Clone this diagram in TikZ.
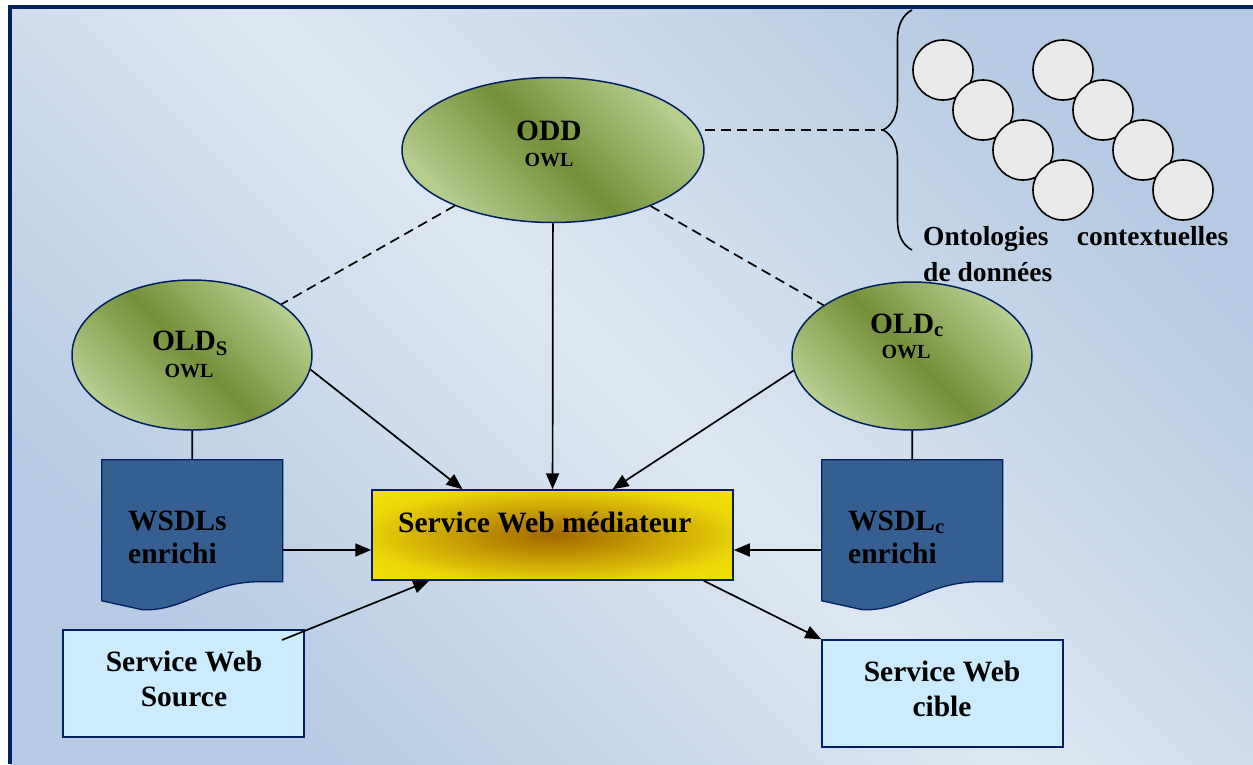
\documentclass[tikz,border=0pt]{standalone}
\usepackage{fontspec}
\setmainfont{Liberation Serif}
\usetikzlibrary{arrows.meta,calc,shapes.geometric,decorations.pathreplacing}
\definecolor{navy}{RGB}{0,32,96}
\definecolor{bglight}{RGB}{221,231,242}
\definecolor{bgdark}{RGB}{182,202,227}
\definecolor{gdark}{RGB}{116,144,58}
\definecolor{glight}{RGB}{182,205,142}
\definecolor{docblue}{RGB}{54,95,145}
\definecolor{boxblue}{RGB}{204,235,253}
\definecolor{medyellow}{RGB}{244,228,10}
\definecolor{medbrown}{RGB}{163,104,0}
\colorlet{medmida}{medbrown!65!medyellow}
\colorlet{medmidb}{medyellow!90!medbrown}
\definecolor{circgray}{RGB}{233,233,233}
\pgfdeclareradialshading{medshade}{\pgfpoint{0bp}{0bp}}{color(0bp)=(medbrown); color(11bp)=(medmida); color(27bp)=(medmidb); color(40bp)=(medyellow); color(50bp)=(medyellow)}
\begin{document}
\begin{tikzpicture}[x=1pt,y=-1pt,
  oval/.style={ellipse, draw=navy, line width=1.5pt, top color=glight, bottom color=glight, middle color=gdark, shading angle=-45, inner sep=0pt, minimum width=240pt, minimum height=150pt},
  lbl/.style={font=\fontsize{29.5}{34}\selectfont\bfseries, inner sep=0pt, anchor=base},
  smalllbl/.style={font=\fontsize{20}{24}\selectfont\bfseries, inner sep=0pt, anchor=base},
  onto/.style={font=\fontsize{27.5}{32}\selectfont\bfseries, inner sep=0pt, anchor=base west},
  docnode/.style={rectangle, minimum width=181pt, minimum height=150pt, inner sep=0pt},
  docshape/.style={fill=docblue, draw=navy, line width=1.3pt},
  wbox/.style={rectangle, draw=navy, line width=1.5pt, fill=boxblue, minimum width=241pt, minimum height=107pt, inner sep=0pt},
  arr/.style={line width=1.7pt, -{Triangle[length=16pt,width=13pt]}},
  plainline/.style={line width=1.7pt},
  dsh/.style={line width=1.7pt, dash pattern=on 10pt off 6pt},
  ball/.style={circle, draw=black, line width=1.6pt, fill=circgray, minimum size=60pt, inner sep=0pt}]
\useasboundingbox (0,0) rectangle (1253,764);
\fill[top color=bgdark,bottom color=bgdark,middle color=bglight,shading angle=-45] (10,7) rectangle (1253,764);
\draw[navy,line width=4pt] (10,764) -- (10,7) -- (1253,7);
% brace and circles
\draw[line width=1.6pt, decorate, decoration={brace, amplitude=29pt}] (912,250) -- (912,10);
\coordinate (btip) at (883,130);
\node[ball] (c1) at (943,70) {};
\node[ball] (c2) at (983,110) {};
\node[ball] (c3) at (1023,150) {};
\node[ball] (c4) at (1063,190) {};
\node[ball] (c5) at (1063,70) {};
\node[ball] (c6) at (1103,110) {};
\node[ball] (c7) at (1143,150) {};
\node[ball] (c8) at (1183,190) {};
\node[onto] (ont1) at (923,245) {\makebox[305pt][s]{Ontologies\hfill contextuelles}};
\node[onto] (ont2) at (923,281) {de données};
% ellipses
\node[oval, minimum width=302pt, minimum height=145pt] (odd) at (553,150) {};
\node[oval] (olds) at (192,355) {};
\node[oval, minimum height=148pt] (oldc) at (912,356) {};
\node[lbl] (oddt) at (549,140) {ODD};
\node[smalllbl] (oddo) at (549,166) {OWL};
\node[lbl] (oldst) at (190,350) {OLD\textsubscript{S}};
\node[smalllbl] (oldso) at (189,377) {OWL};
\node[lbl] (oldct) at (907,333) {OLD\textsubscript{c}};
\node[smalllbl] (oldco) at (906,358) {OWL};
% documents
\node[docnode] (wsL) at (192.5,535) {};
\draw[docshape, shift={(wsL.north west)}] (0,0) -- (181,0) -- (181,122) -- (153,122) .. controls (103,124) and (83,151) .. (41,150) -- (0,141) -- cycle;
\node[docnode] (wsR) at (912.5,535) {};
\draw[docshape, shift={(wsR.north west)}] (0,0) -- (181,0) -- (181,122) -- (153,122) .. controls (103,124) and (83,151) .. (41,150) -- (0,141) -- cycle;
\node[lbl, anchor=base west] (wsLa) at (128,530) {WSDLs};
\node[lbl, anchor=base west] (wsLb) at (128,563) {enrichi};
\node[lbl, anchor=base west] (wsRa) at (848,530) {WSDL\textsubscript{c}};
\node[lbl, anchor=base west] (wsRb) at (848,563) {enrichi};
% mediator
\node[draw=navy, line width=1.5pt, shade, shading=medshade, minimum width=361pt, minimum height=90pt, inner sep=0pt] (med) at (552.5,535) {};
\node[lbl, anchor=base west] (medt) at (398,532) {Service Web médiateur};
% boxes
\node[wbox] (src) at (183.5,683.5) {};
\node[lbl] (srca) at (184,671) {Service Web};
\node[lbl] (srcb) at (184,706) {Source};
\node[wbox] (cib) at (942.5,693.5) {};
\node[lbl] (ciba) at (942,681) {Service Web};
\node[lbl] (cibb) at (942,716) {cible};
% connectors
\draw[dsh] (odd.east |- btip) -- (btip);
\draw[dsh] (odd) -- (olds);
\draw[dsh] (odd) -- (oldc);
\draw[arr] (odd) -- (med);
\draw[arr] (olds.-7) -- ($(med.north)+(-90,0)$);
\draw[arr] (oldc.187) -- ($(med.north)+(60,0)$);
\draw[plainline] (olds) -- (wsL);
\draw[plainline] (oldc) -- (wsR);
\draw[arr] ([yshift=-15pt]wsL.east) -- ([yshift=-15pt]med.west);
\draw[arr] ([yshift=-15pt]wsR.west) -- ([yshift=-15pt]med.east);
\coordinate (srcin) at (282,640);
\draw[arr] (srcin) -- ($(med.south west)+(58,0)$);
\draw[arr] ($(med.south east)+(-30,0)$) -- (cib.north west);
\end{tikzpicture}
\end{document}
